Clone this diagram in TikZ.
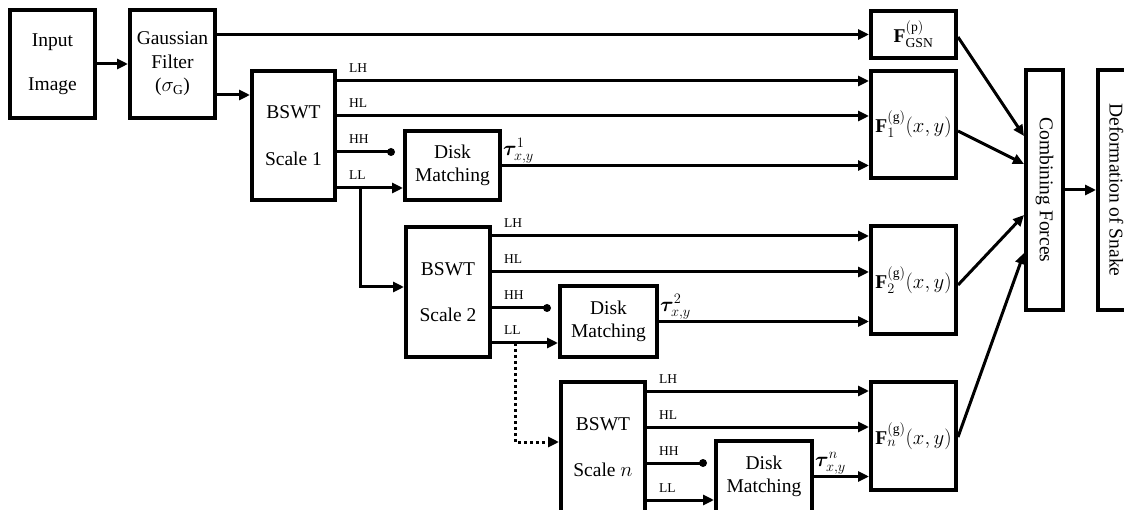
\documentclass[tikz,border=0pt]{standalone}
\usepackage{fontspec}
\setmainfont{Liberation Serif}
\usepackage{amsmath,bm}
\usetikzlibrary{arrows.meta,calc}
\tikzset{
  big/.style={font=\fontsize{19.5}{23.4}\selectfont},
  box/.style={draw, line width=4pt, rectangle, inner sep=0pt, align=center, big},
  arr/.style={line width=3pt, -{Triangle[length=11pt,width=10pt]}},
  ln/.style={line width=3pt},
  dotln/.style={line width=3pt, dash pattern=on 3pt off 3pt, -{Triangle[length=11pt,width=10pt]}},
  lab/.style={font=\fontsize{13.5}{16}\selectfont, inner sep=0pt, anchor=base west},
  taulab/.style={font=\fontsize{21}{25}\selectfont, inner sep=1pt, anchor=south west}
}
\begin{document}
\begin{tikzpicture}[x=1pt,y=-1pt]
\useasboundingbox (0,0) rectangle (1124,510);
\clip (0,0) rectangle (1124,510);

% boxes
\node[box, minimum width=85pt, minimum height=108pt] (in) at (52.5,64) {Input\\[21pt]Image};
\node[box, minimum width=85pt, minimum height=108pt] (gf) at (172.5,64) {Gaussian\\Filter\\($\sigma_{\mathrm{G}}$)};
\node[box, minimum width=85pt, minimum height=47pt] (fgsn) at (913.5,34.5) {$\mathbf{F}^{(\mathrm{p})}_{\mathrm{GSN}}$};

\node[box, minimum width=83pt, minimum height=129pt] (b1) at (293.5,135.5) {BSWT\\[23pt]Scale 1};
\node[box, minimum width=95pt, minimum height=69pt] (dm1) at (452.5,165.5) {Disk\\Matching};
\node[box, minimum width=85pt, minimum height=107pt] (f1) at (913.5,124.5) {$\mathbf{F}^{(\mathrm{g})}_{1}(x,y)$};

\node[box, minimum width=84pt, minimum height=130pt] (b2) at (448,292) {BSWT\\[23pt]Scale 2};
\node[box, minimum width=97pt, minimum height=71pt] (dm2) at (608.5,321.5) {Disk\\Matching};
\node[box, minimum width=85pt, minimum height=108pt] (f2) at (913.5,280) {$\mathbf{F}^{(\mathrm{g})}_{2}(x,y)$};

\node[box, minimum width=84pt, minimum height=130pt] (bn) at (603,447) {BSWT\\[23pt]Scale $n$};
\node[box, minimum width=96pt, minimum height=71pt] (dmn) at (764,476.5) {Disk\\Matching};
\node[box, minimum width=85pt, minimum height=108pt] (fn) at (913.5,436) {$\mathbf{F}^{(\mathrm{g})}_{n}(x,y)$};

\node[box, minimum width=37pt, minimum height=240pt,
  label={[rotate=-90, big]center:Combining Forces}] (comb) at (1044.5,190) {};
\node[box, minimum width=37pt, minimum height=240pt,
  label={[rotate=-90, big]center:Deformation of Snake}] (def) at (1116.5,190) {};

% input chain
\draw[arr] (in.east) -- (gf.east -| gf.west);
\draw[arr] (gf.east |- fgsn.west) -- (fgsn.west);
\coordinate (g2) at ([yshift=-31pt]gf.east);
\draw[arr] (g2) -- (g2 -| b1.west);

% scale 1
\coordinate (b1lh) at ([yshift=-12pt]b1.north east);
\coordinate (b1hl) at ([yshift=-47pt]b1.north east);
\coordinate (b1hh) at ([yshift=-83pt]b1.north east);
\coordinate (b1ll) at ([yshift=-119pt]b1.north east);
\draw[arr] (b1lh) -- (b1lh -| f1.west);
\draw[arr] (b1hl) -- (b1hl -| f1.west);
\coordinate (hh1) at ([xshift=-12pt]b1hh -| dm1.west);
\draw[ln] (b1hh) -- (hh1);
\fill (hh1) circle (4pt);
\draw[arr] (b1ll) -- (b1ll -| dm1.west);
\node[lab] at ([xshift=12pt,yshift=8pt]b1lh) {LH};
\node[lab] at ([xshift=12pt,yshift=8pt]b1hl) {HL};
\node[lab] at ([xshift=12pt,yshift=8pt]b1hh) {HH};
\node[lab] at ([xshift=12pt,yshift=8pt]b1ll) {LL};
\draw[arr] (dm1.east) -- (dm1.east -| f1.west);
\node[taulab] at ([yshift=1pt]dm1.east) {$\bm{\tau}^{1}_{x,y}$};
\coordinate (br1) at ([xshift=23pt]b1ll);
\draw[arr] (br1) |- ([yshift=5pt]b2.west);

% scale 2
\coordinate (b2lh) at ([yshift=-11pt]b2.north east);
\coordinate (b2hl) at ([yshift=-47pt]b2.north east);
\coordinate (b2hh) at ([yshift=-83pt]b2.north east);
\coordinate (b2ll) at ([yshift=-118pt]b2.north east);
\draw[arr] (b2lh) -- (b2lh -| f2.west);
\draw[arr] (b2hl) -- (b2hl -| f2.west);
\coordinate (hh2) at ([xshift=-11pt]b2hh -| dm2.west);
\draw[ln] (b2hh) -- (hh2);
\fill (hh2) circle (4pt);
\draw[arr] (b2ll) -- (b2ll -| dm2.west);
\node[lab] at ([xshift=12pt,yshift=8pt]b2lh) {LH};
\node[lab] at ([xshift=12pt,yshift=8pt]b2hl) {HL};
\node[lab] at ([xshift=12pt,yshift=8pt]b2hh) {HH};
\node[lab] at ([xshift=12pt,yshift=8pt]b2ll) {LL};
\draw[arr] (dm2.east) -- (dm2.east -| f2.west);
\node[taulab] at ([yshift=1pt]dm2.east) {$\bm{\tau}^{2}_{x,y}$};
\coordinate (br2) at ([xshift=23pt]b2ll);
\draw[dotln] (br2) |- ([yshift=5pt]bn.west);

% scale n
\coordinate (bnlh) at ([yshift=-11pt]bn.north east);
\coordinate (bnhl) at ([yshift=-47pt]bn.north east);
\coordinate (bnhh) at ([yshift=-83pt]bn.north east);
\coordinate (bnll) at ([yshift=-120pt]bn.north east);
\draw[arr] (bnlh) -- (bnlh -| fn.west);
\draw[arr] (bnhl) -- (bnhl -| fn.west);
\coordinate (hhn) at ([xshift=-11pt]bnhh -| dmn.west);
\draw[ln] (bnhh) -- (hhn);
\fill (hhn) circle (4pt);
\draw[arr] (bnll) -- (bnll -| dmn.west);
\node[lab] at ([xshift=12pt,yshift=8pt]bnlh) {LH};
\node[lab] at ([xshift=12pt,yshift=8pt]bnhl) {HL};
\node[lab] at ([xshift=12pt,yshift=8pt]bnhh) {HH};
\node[lab] at ([xshift=12pt,yshift=8pt]bnll) {LL};
\draw[arr] (dmn.east) -- (dmn.east -| fn.west);
\node[taulab] at ([yshift=1pt]dmn.east) {$\bm{\tau}^{n}_{x,y}$};

% combining
\draw[arr] ([yshift=-2.5pt]fgsn.east) -- ([yshift=-68pt]comb.north west);
\draw[arr] ([yshift=-6.5pt]f1.east) -- ([yshift=-96pt]comb.north west);
\draw[arr] ([yshift=-5pt]f2.east) -- ([yshift=-147pt]comb.north west);
\draw[arr] ([yshift=-1pt]fn.east) -- ([yshift=-185pt]comb.north west);
\draw[arr] (comb.east) -- (def.west);
\end{tikzpicture}
\end{document}
